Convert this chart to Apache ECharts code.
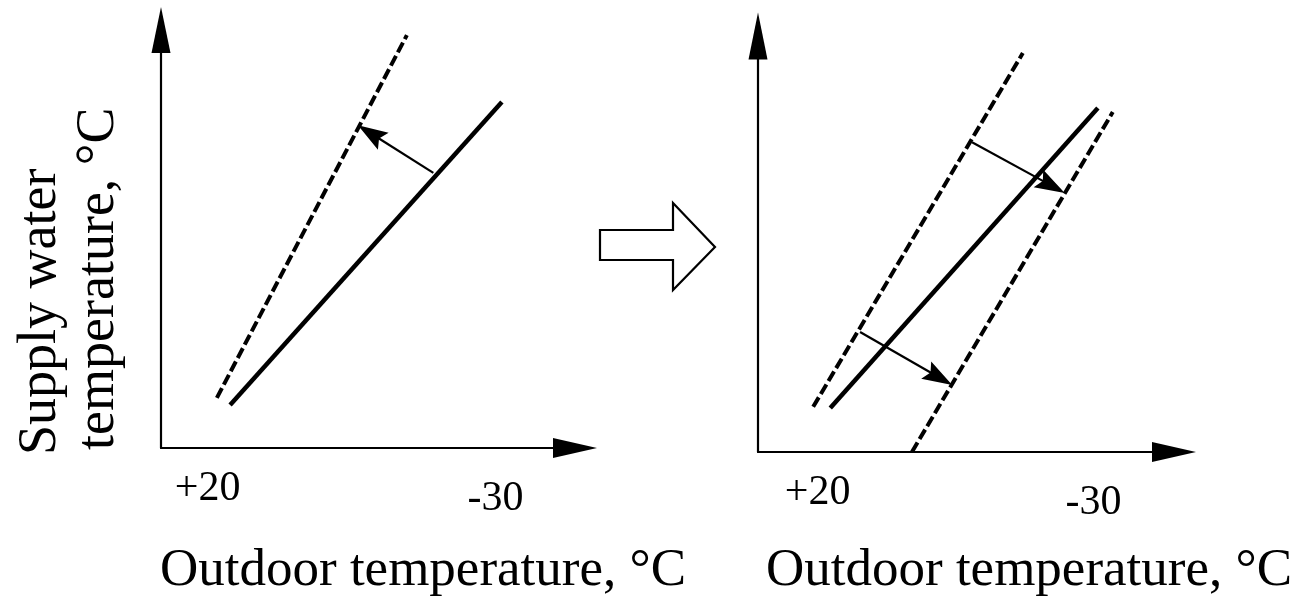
<!DOCTYPE html>
<html>
<head>
<meta charset="utf-8">
<script src="https://cdn.jsdelivr.net/npm/echarts@6/dist/echarts.min.js"></script>
<style>
  html, body { margin: 0; padding: 0; background: #fff; }
  #chart { width: 1299px; height: 598px; }
</style>
</head>
<body>
<div id="chart"></div>
<script>
// ---- Data (outdoor temperature in °C on x, supply water temperature in schematic units on y) ----
const tickTemps = [20, -30];
const tickLabels = ['+20', '-30'];

// Left panel (before adjustment)
const leftSolidX = [16.1, -31.1];
const leftSolidY = [10.8, 86.9];
const leftDashedX = [18.4, -14.6];
const leftDashedY = [12.6, 103.7];
const leftArrows = [[-19.2, 69.1, -6.1, 81.1]];

// Right panel (after adjustment)
const rightSolidX = [17.7, -30.8];
const rightSolidY = [11.1, 86.8];
const rightDashedUpperX = [20.8, -17.2];
const rightDashedUpperY = [11.4, 100.7];
const rightDashedLowerX = [2.9, -33.5];
const rightDashedLowerY = [0, 85.8];
const rightArrows = [[-8.0, 78.2, -24.8, 65.4], [12.3, 30.3, -4.4, 16.9]];

const yTitleLines = ['Supply water', 'temperature, °C'];
const xTitle = 'Outdoor temperature, °C';

// ---- helpers ----
const FONT = '"Liberation Serif", "Times New Roman", serif';
const zip = (xs, ys) => xs.map((x, i) => [x, ys[i]]);

function arrowItem(params, api) {
  const p1 = api.coord([api.value(0), api.value(1)]);
  const p2 = api.coord([api.value(2), api.value(3)]);
  const dx = p2[0] - p1[0], dy = p2[1] - p1[1];
  const len = Math.hypot(dx, dy);
  const ux = dx / len, uy = dy / len;
  const L = 30, W = 10;
  const bx = p2[0] - ux * L, by = p2[1] - uy * L;
  const nx = -uy, ny = ux;
  return {
    type: 'group',
    children: [
      { type: 'line', shape: { x1: p1[0], y1: p1[1], x2: bx + ux * 6, y2: by + uy * 6 },
        style: { stroke: '#000', lineWidth: 2.2 } },
      { type: 'polygon',
        shape: { points: [[p2[0], p2[1]], [bx + nx * W, by + ny * W], [bx + ux * 5, by + uy * 5], [bx - nx * W, by - ny * W]] },
        style: { fill: '#000' } }
    ]
  };
}

function xAxisFor(gridIndex, min, max) {
  return {
    type: 'value', gridIndex, inverse: true, min, max,
    axisLine: { show: true, onZero: false, symbol: ['none', 'triangle'], symbolSize: [20, 44],
      lineStyle: { color: '#000', width: 2.2 } },
    axisTick: { show: false },
    splitLine: { show: false },
    axisLabel: {
      show: true, margin: 20,
      customValues: tickTemps,
      formatter: (v) => {
        const i = tickTemps.indexOf(v);
        return i === 0 ? '{a|' + tickLabels[i] + '}' : '{b|' + tickLabels[i] + '}';
      },
      rich: {
        a: { fontFamily: FONT, fontSize: 42, color: '#000' },
        b: { fontFamily: FONT, fontSize: 42, color: '#000', padding: [10, 0, 0, 0] }
      }
    }
  };
}
function yAxisFor(gridIndex, symH) {
  return {
    type: 'value', gridIndex, min: 0, max: 105,
    axisLine: { show: true, onZero: false, symbol: ['none', 'triangle'], symbolSize: [19, symH],
      lineStyle: { color: '#000', width: 2.2 } },
    axisTick: { show: false },
    splitLine: { show: false },
    axisLabel: { show: false }
  };
}

const solidStyle = { color: '#000', width: 4.5 };
const dashStyle = { color: '#000', width: 4, type: [11, 4] };

const chart = echarts.init(document.getElementById('chart'), null, { renderer: 'canvas' });
chart.setOption({
  backgroundColor: '#fff',
  animation: false,
  grid: [
    { left: 161, top: 30, width: 414, height: 418, containLabel: false, outerBoundsMode: 'none' },
    { left: 758, top: 36, width: 416, height: 416, containLabel: false, outerBoundsMode: 'none' }
  ],
  xAxis: [xAxisFor(0, -43.8, 28.1), xAxisFor(1, -44.6, 30.8)],
  yAxis: [yAxisFor(0, 46), yAxisFor(1, 47)],
  series: [
    { type: 'line', xAxisIndex: 0, yAxisIndex: 0, data: zip(leftDashedX, leftDashedY), symbol: 'none', lineStyle: dashStyle, silent: true },
    { type: 'line', xAxisIndex: 0, yAxisIndex: 0, data: zip(leftSolidX, leftSolidY), symbol: 'none', lineStyle: solidStyle, silent: true },
    { type: 'custom', xAxisIndex: 0, yAxisIndex: 0, data: leftArrows, renderItem: arrowItem, encode: { x: [0, 2], y: [1, 3] }, silent: true },
    { type: 'line', xAxisIndex: 1, yAxisIndex: 1, data: zip(rightDashedUpperX, rightDashedUpperY), symbol: 'none', lineStyle: dashStyle, silent: true },
    { type: 'line', xAxisIndex: 1, yAxisIndex: 1, data: zip(rightSolidX, rightSolidY), symbol: 'none', lineStyle: solidStyle, silent: true },
    { type: 'line', xAxisIndex: 1, yAxisIndex: 1, data: zip(rightDashedLowerX, rightDashedLowerY), symbol: 'none', lineStyle: dashStyle, silent: true },
    { type: 'custom', xAxisIndex: 1, yAxisIndex: 1, data: rightArrows, renderItem: arrowItem, encode: { x: [0, 2], y: [1, 3] }, silent: true }
  ],
  graphic: [
    { type: 'text', x: 41, y: 455, rotation: Math.PI / 2,
      style: { text: yTitleLines[0], fontFamily: FONT, fontSize: 54, fill: '#000', align: 'left', verticalAlign: 'middle' } },
    { type: 'text', x: 99, y: 450, rotation: Math.PI / 2,
      style: { text: yTitleLines[1], fontFamily: FONT, fontSize: 54, fill: '#000', align: 'left', verticalAlign: 'middle' } },
    { type: 'text', x: 160, y: 571,
      style: { text: xTitle, fontFamily: FONT, fontSize: 53, fill: '#000', align: 'left', verticalAlign: 'middle' } },
    { type: 'text', x: 766, y: 571,
      style: { text: xTitle, fontFamily: FONT, fontSize: 53, fill: '#000', align: 'left', verticalAlign: 'middle' } },
    { type: 'polygon',
      shape: { points: [[600, 230], [673, 230], [673, 203], [715, 247], [673, 290], [673, 260], [600, 260]] },
      style: { fill: '#fff', stroke: '#000', lineWidth: 2.2 } }
  ]
});
</script>
</body>
</html>
